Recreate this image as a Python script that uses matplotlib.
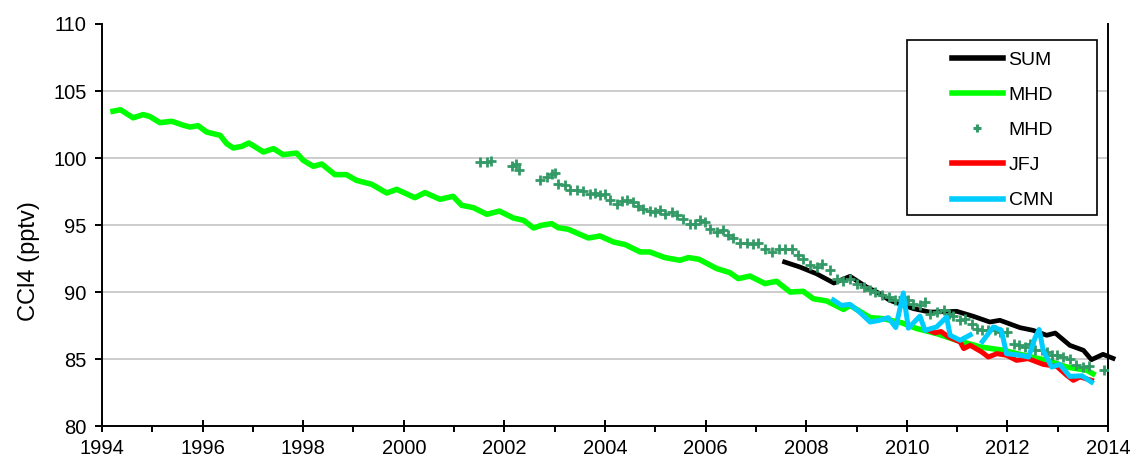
import matplotlib
matplotlib.use("Agg")
import matplotlib.pyplot as plt
import numpy as np
from matplotlib.lines import Line2D
from matplotlib.patches import Rectangle
from matplotlib.ticker import MultipleLocator

plt.rcParams['font.family'] = ['Liberation Sans', 'DejaVu Sans']

# ---------------- data ----------------
mhd_line_years = [1994.22, 1994.37, 1994.62, 1994.82, 1994.95, 1995.15, 1995.39, 1995.62, 1995.75, 1995.91,
                  1996.08, 1996.35, 1996.48, 1996.61, 1996.78, 1996.92, 1997.21, 1997.41, 1997.60, 1997.87,
                  1998.00, 1998.20, 1998.37, 1998.63, 1998.86, 1999.06, 1999.36, 1999.66, 1999.86, 2000.22,
                  2000.42, 2000.72, 2000.98, 2001.15, 2001.38, 2001.65, 2001.90, 2002.18, 2002.38, 2002.58,
                  2002.74, 2002.94, 2003.07, 2003.27, 2003.67, 2003.90, 2004.17, 2004.40, 2004.70, 2004.89,
                  2005.19, 2005.49, 2005.66, 2005.87, 2006.22, 2006.48, 2006.65, 2006.88, 2007.18, 2007.41,
                  2007.68, 2007.94, 2008.14, 2008.41, 2008.74, 2008.87, 2009.27, 2009.53, 2009.90, 2010.20,
                  2010.59, 2010.99, 2011.46, 2011.92, 2012.32, 2012.78, 2013.18, 2013.58, 2013.70]
mhd_line_values = [103.49, 103.60, 103.00, 103.24, 103.10, 102.64, 102.74, 102.44, 102.31, 102.41,
                   101.94, 101.69, 101.07, 100.75, 100.87, 101.12, 100.45, 100.70, 100.25, 100.37,
                   99.83, 99.38, 99.55, 98.76, 98.76, 98.33, 98.04, 97.39, 97.66, 97.04,
                   97.42, 96.92, 97.14, 96.47, 96.30, 95.80, 96.04, 95.52, 95.35, 94.78,
                   94.98, 95.10, 94.80, 94.68, 94.03, 94.18, 93.73, 93.54, 92.99, 92.99,
                   92.57, 92.37, 92.57, 92.44, 91.75, 91.45, 91.00, 91.19, 90.63, 90.80,
                   90.00, 90.05, 89.50, 89.33, 88.70, 89.00, 88.09, 88.01, 87.70, 87.27,
                   86.90, 86.40, 85.90, 85.65, 85.28, 84.90, 84.40, 84.16, 83.90]

mhd_pts_years = [2001.52, 2001.65, 2001.73, 2002.15, 2002.23, 2002.29, 2002.71, 2002.84, 2002.94, 2003.00,
                 2003.07, 2003.20, 2003.30, 2003.44, 2003.57, 2003.70, 2003.80, 2003.90, 2004.00, 2004.10,
                 2004.23, 2004.33, 2004.43, 2004.56, 2004.66, 2004.76, 2004.89, 2004.99, 2005.09, 2005.19,
                 2005.33, 2005.43, 2005.56, 2005.69, 2005.79, 2005.89, 2005.99, 2006.09, 2006.22, 2006.35,
                 2006.45, 2006.55, 2006.68, 2006.82, 2006.95, 2007.05, 2007.18, 2007.31, 2007.45, 2007.58,
                 2007.71, 2007.84, 2007.94, 2008.08, 2008.21, 2008.31, 2008.47, 2008.61, 2008.74, 2008.87,
                 2009.00, 2009.14, 2009.27, 2009.37, 2009.50, 2009.64, 2009.77, 2009.93, 2010.03, 2010.13,
                 2010.26, 2010.36, 2010.46, 2010.59, 2010.73, 2010.83, 2010.92, 2011.06, 2011.16, 2011.29,
                 2011.39, 2011.49, 2011.62, 2011.75, 2011.85, 2011.99, 2012.12, 2012.22, 2012.35, 2012.45,
                 2012.55, 2012.68, 2012.78, 2012.88, 2012.98, 2013.11, 2013.24, 2013.37, 2013.51, 2013.62,
                 2013.91]
mhd_pts_values = [99.70, 99.70, 99.75, 99.40, 99.58, 99.08, 98.34, 98.58, 98.78, 98.90,
                  98.04, 97.96, 97.59, 97.59, 97.54, 97.34, 97.39, 97.22, 97.29, 96.90,
                  96.60, 96.77, 96.84, 96.72, 96.40, 96.22, 96.04, 95.97, 96.15, 95.85,
                  95.97, 95.72, 95.48, 95.10, 95.10, 95.35, 95.22, 94.73, 94.48, 94.60,
                  94.23, 94.06, 93.66, 93.66, 93.61, 93.66, 93.24, 92.99, 93.24, 93.24,
                  93.24, 92.74, 92.49, 91.99, 91.87, 92.12, 91.62, 91.00, 90.80, 91.00,
                  90.57, 90.37, 90.13, 90.00, 89.75, 89.63, 89.38, 89.63, 89.38, 89.13,
                  89.00, 89.23, 88.39, 88.51, 88.63, 88.39, 88.19, 87.89, 88.01, 87.64,
                  87.27, 87.14, 87.14, 87.14, 87.01, 87.01, 86.15, 86.02, 85.90, 86.15,
                  85.65, 85.65, 85.52, 85.28, 85.28, 85.15, 85.03, 84.53, 84.40, 84.46,
                  84.21]

sum_years = [2007.57, 2007.87, 2008.20, 2008.55, 2008.87, 2009.20, 2009.46, 2009.66, 2010.13, 2010.46,
             2010.99, 2011.32, 2011.65, 2011.85, 2012.25, 2012.51, 2012.78, 2012.95, 2013.24, 2013.51,
             2013.67, 2013.90, 2014.10]
sum_values = [92.24, 91.87, 91.37, 90.67, 91.17, 90.37, 89.88, 89.38, 88.76, 88.50,
              88.56, 88.19, 87.76, 87.89, 87.34, 87.14, 86.77, 86.94, 86.02, 85.65,
              84.95, 85.35, 85.05]

jfj_years = [2010.44, 2010.56, 2010.68, 2010.83, 2011.06, 2011.13, 2011.26, 2011.49, 2011.62, 2011.79,
             2011.98, 2012.18, 2012.41, 2012.71, 2012.98, 2013.18, 2013.31, 2013.44, 2013.67]
jfj_values = [87.14, 86.95, 87.05, 86.64, 86.27, 85.78, 86.02, 85.52, 85.15, 85.40,
              85.28, 84.90, 85.03, 84.60, 84.45, 83.78, 83.41, 83.66, 83.41]

cmn_years = [2008.54, 2008.70, 2008.87, 2009.06, 2009.27, 2009.46, 2009.63, 2009.78, 2009.93, 2010.03,
             2010.26, 2010.36, 2010.59, 2010.79, 2010.86, 2011.06, 2011.26, 2011.38, 2011.50, 2011.72,
             2011.88, 2011.98, 2012.25, 2012.42, 2012.55, 2012.63, 2012.71, 2012.88, 2013.04, 2013.24,
             2013.48, 2013.67]
cmn_values = [89.40, 89.00, 89.08, 88.50, 87.76, 87.89, 88.09, 87.35, 89.93, 87.30,
              88.20, 87.14, 87.39, 88.13, 86.77, 86.40, 86.80, np.nan, 86.30, 87.39,
              87.14, 85.40, 85.28, 85.15, 86.60, 87.20, 85.65, 84.40, 84.60, 83.70,
              83.75, 83.28]

x_ticks = [1994, 1996, 1998, 2000, 2002, 2004, 2006, 2008, 2010, 2012, 2014]
y_ticks = [80, 85, 90, 95, 100, 105, 110]

# ---------------- plot ----------------
fig = plt.figure(figsize=(11.33, 4.66), dpi=100)
ax = fig.add_axes([0.0900, 0.0858, 0.8880, 0.8627])

ax.set_xlim(1994, 2014)
ax.set_ylim(80, 110)

for yv in y_ticks[1:-1]:
    ax.axhline(yv, color='#c8c8c8', lw=1.3, zorder=0)

c_green = '#00ff00'
c_pts = '#339966'
c_cyan = '#00ccff'

ax.plot(mhd_line_years, mhd_line_values, color=c_green, lw=4.0, zorder=2)
ax.plot(sum_years, sum_values, color='black', lw=3.4, zorder=3, clip_on=False)
ax.plot(mhd_pts_years, mhd_pts_values, ls='none', marker='+', ms=7, mew=2.0,
        color=c_pts, zorder=4)
ax.plot(jfj_years, jfj_values, color='#ff0000', lw=3.6, zorder=5)
ax.plot(cmn_years, cmn_values, color=c_cyan, lw=3.6, zorder=6)

ax.set_xticks(x_ticks)
ax.xaxis.set_minor_locator(MultipleLocator(1))
ax.set_yticks(y_ticks)

for s in ['left', 'bottom', 'right']:
    ax.spines[s].set_linewidth(1.4)
    ax.spines[s].set_color('black')
ax.spines['top'].set_visible(False)

ax.tick_params(axis='x', which='major', direction='inout', length=9, width=1.4,
               labelsize=14.5, pad=5)
ax.tick_params(axis='x', which='minor', direction='out', length=4, width=1.4)
ax.tick_params(axis='y', which='major', direction='out', length=5, width=1.4,
               labelsize=14.5, pad=6)
ax.tick_params(axis='y', right=False)

ax.set_ylabel('CCl4 (pptv)', fontsize=17)
ax.yaxis.set_label_coords(-0.062, 0.41)

# legend frame
ax.add_patch(Rectangle((0.800, 0.525), 0.189, 0.435, transform=ax.transAxes,
                       facecolor='white', edgecolor='black', lw=1.2, zorder=10))

handles = [
    Line2D([], [], color='black', lw=4),
    Line2D([], [], color=c_green, lw=4),
    Line2D([], [], color=c_pts, ls='none', marker='+', ms=6, mew=2.2),
    Line2D([], [], color='#ff0000', lw=4),
    Line2D([], [], color=c_cyan, lw=4),
]
labels = ['SUM', 'MHD', 'MHD', 'JFJ', 'CMN']
leg = ax.legend(handles, labels, loc='upper left', bbox_to_anchor=(0.845, 0.932),
                frameon=False, fontsize=14, handlelength=2.6, handletextpad=0.3,
                labelspacing=0.9, borderpad=0, borderaxespad=0)
leg.set_zorder(11)

fig.savefig('out.png', dpi=100)
